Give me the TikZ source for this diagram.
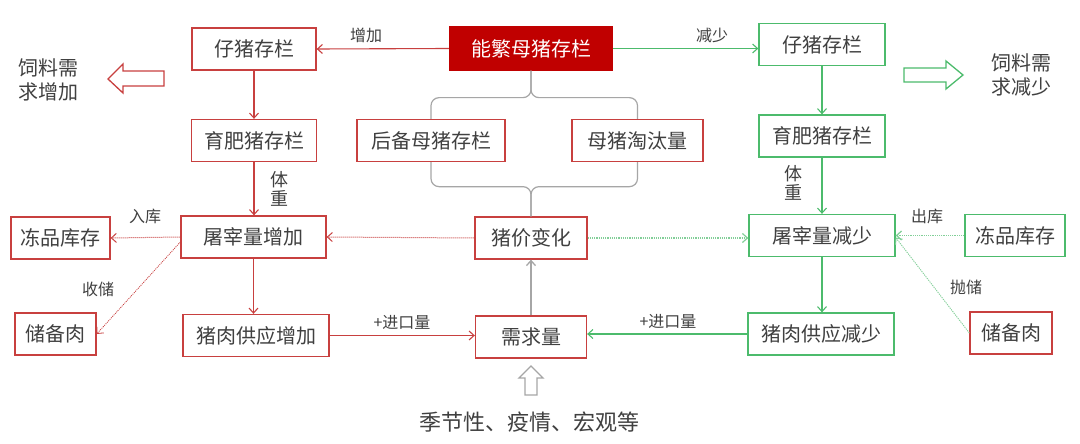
\documentclass[tikz,border=0pt]{standalone}
\usepackage{fontspec}
\setmainfont{Noto Sans CJK SC}
\usetikzlibrary{arrows.meta}
\definecolor{rd}{HTML}{C8403F}
\definecolor{gn}{HTML}{4CBB6C}
\definecolor{nfred}{HTML}{C00000}
\definecolor{txt}{HTML}{404040}
\definecolor{gy}{HTML}{A6A6A6}
\begin{document}
\begin{tikzpicture}[x=1pt,y=-1pt,
  box/.style={draw, line width=1.3pt, inner sep=0pt, text=txt, minimum height=42pt, font=\fontsize{20}{23}\selectfont},
  rbox/.style={box, draw=rd},
  gbox/.style={box, draw=gn},
  lbl/.style={text=txt, inner sep=0pt, font=\fontsize{16}{18}\selectfont},
  vlbl/.style={text=txt, inner sep=0pt, align=center, font=\fontsize{18}{19}\selectfont},
  big/.style={text=txt, inner sep=0pt, align=center, font=\fontsize{20}{24}\selectfont},
  tipv/.style={-{Straight Barb[length=5pt,width=9pt]}},
  rline/.style={tipv, draw=rd, line width=1.1pt},
  gline/.style={tipv, draw=gn, line width=1.1pt},
  rdot/.style={tipv, draw=rd, line width=1pt, densely dotted},
  gdot/.style={tipv, draw=gn!70, line width=1.2pt, densely dotted},
  brace/.style={draw=gy, line width=1.2pt, rounded corners=8pt},
  hollow/.style={line width=1.3pt, fill=white, line join=miter}
]
\useasboundingbox[fill=white] (0,0) rectangle (1080,444);

% centre column
\node[box, draw=nfred, fill=nfred, text=white, minimum width=163pt, minimum height=43pt] (nf) at (531,48.5) {能繁母猪存栏};
\node[rbox, minimum width=148pt] (hb) at (431,140.5) {后备母猪存栏};
\node[rbox, minimum width=131pt] (mt) at (637.5,140.5) {母猪淘汰量};
\node[rbox, minimum width=112pt] (pj) at (531,238) {猪价变化};
\node[rbox, minimum width=111pt] (xq) at (531,337) {需求量};
\node[big, font=\fontsize{22}{26}\selectfont] (jj) at (529,422) {季节性、疫情、宏观等};

% left (red) side
\node[rbox, minimum width=124pt] (zl) at (254,49) {仔猪存栏};
\node[rbox, minimum width=125pt] (yl) at (254,140.5) {育肥猪存栏};
\node[rbox, minimum width=145pt] (tl) at (253.5,237) {屠宰量增加};
\node[rbox, minimum width=146pt] (gl) at (256,335.5) {猪肉供应增加};
\node[rbox, minimum width=99pt] (dl) at (60.5,238) {冻品库存};
\node[rbox, minimum width=81pt] (cl) at (55.5,334) {储备肉};
\node[big] (sl) at (49,80) {饲料需\\求增加};

% right (green) side
\node[gbox, minimum width=126pt] (zr) at (822,44.5) {仔猪存栏};
\node[gbox, minimum width=126pt] (yr) at (822,136) {育肥猪存栏};
\node[gbox, minimum width=146pt] (tr) at (822,235.5) {屠宰量减少};
\node[gbox, minimum width=146pt] (gr) at (821,334) {猪肉供应减少};
\node[gbox, minimum width=100pt] (dr) at (1015,235.5) {冻品库存};
\node[rbox, minimum width=82pt] (cr) at (1011,333) {储备肉};
\node[big] (sr) at (1021,75) {饲料需\\求减少};

% labels
\node[lbl] (l1) at (366,35) {增加};
\node[lbl] (l2) at (712,35) {减少};
\node[vlbl] (l3) at (279,189) {体\\重};
\node[vlbl] (l4) at (793,183) {体\\重};
\node[lbl] (l5) at (145,216) {入库};
\node[lbl] (l6) at (98,289) {收储};
\node[lbl] (l7) at (402,322) {+进口量};
\node[lbl] (l8) at (668,321) {+进口量};
\node[lbl] (l9) at (927,216) {出库};
\node[lbl] (l10) at (966,287) {抛储};

% braces
\draw[brace] (nf.south) -- ++(0,27) -| (hb.north);
\draw[brace] (nf.south) -- ++(0,27) -| (mt.north);
\draw[brace] (hb.south) -- ++(0,24.5) -| (pj.north);
\draw[brace] (mt.south) -- ++(0,24.5) -| (pj.north);

% red connectors
\draw[rline] (nf.west) -- (zl.east);
\draw[rline] (zl.south) -- (yl.north);
\draw[rline] (yl.south) -- (yl.south |- tl.north);
\draw[rline] (tl.south) -- (tl.south |- gl.north);
\draw[rline] (gl.east) -- (xq.west |- gl.east);
\draw[rdot] (pj.west) -- (tl.east);
\draw[rdot] (tl.west) -- (dl.east);
\draw[rdot, line width=0.8pt] ([yshift=-5pt]tl.west) -- (cl.east);

% green connectors
\draw[gline] (nf.east) -- (zr.west |- nf.east);
\draw[gline] (zr.south) -- (yr.north);
\draw[gline] (yr.south) -- (tr.north);
\draw[gline] (tr.south) -- (tr.south |- gr.north);
\draw[gline] (gr.west) -- (xq.east |- gr.west);
\draw[gdot] (pj.east) -- (tr.west |- pj.east);
\draw[gdot] (dr.west) -- (tr.east |- dr.west);
\draw[gdot, line width=0.9pt] (cr.west) -- ([yshift=-2pt]tr.east);

% gray connector
\draw[tipv, draw=gy, line width=1.3pt] (xq.north) -- (pj.south);

% hollow arrows
\draw[hollow, draw=rd] (108,79) -- (123,64) -- (123,71) -- (164,71) -- (164,86) -- (123,86) -- (123,93) -- cycle;
\draw[hollow, draw=gn] (904,68) -- (946,68) -- (946,61) -- (963,75) -- (946,89) -- (946,82) -- (904,82) -- cycle;
\draw[hollow, draw=gy] (531,366) -- (543,378) -- (537,378) -- (537,395) -- (525,395) -- (525,378) -- (519,378) -- cycle;
\end{tikzpicture}
\end{document}
